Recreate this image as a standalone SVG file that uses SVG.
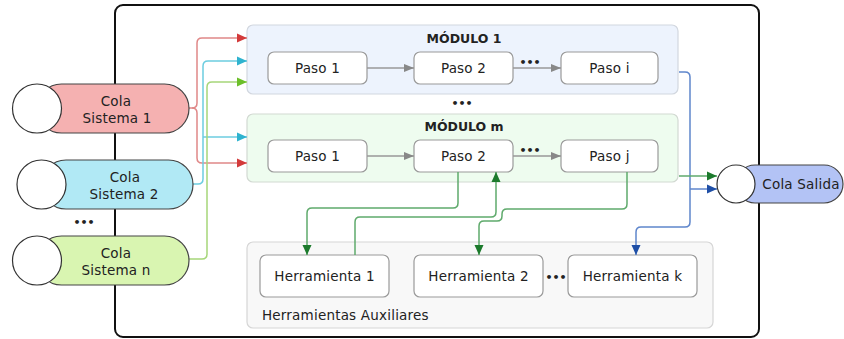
<svg xmlns="http://www.w3.org/2000/svg" width="844" height="339" viewBox="0 0 844 339">
<style>
text{font-family:"DejaVu Sans","Noto Sans",sans-serif;fill:#222;}
.lbl{font-size:13.5px;letter-spacing:0.2px;text-anchor:middle;}
.ttl{font-size:12.5px;font-weight:bold;text-anchor:middle;}
.dots{font-size:11px;font-weight:bold;text-anchor:middle;}
.paso{fill:#fff;stroke:#9a9a9a;stroke-width:1.2;}
.circ{fill:#fff;stroke:#333;stroke-width:1.2;}
.pill{stroke:#444;stroke-width:1.2;}
.c{fill:none;stroke-width:1.5;}
.red{stroke:#e08888;}
.cyan{stroke:#6ccde0;}
.lg{stroke:#a6d67a;}
.dg{stroke:#5faa6c;}
.bl{stroke:#5f86cc;}
.gr{stroke:#999;}
</style>
<defs>
<marker id="aRed" markerWidth="10" markerHeight="10" refX="10" refY="5" orient="auto" markerUnits="userSpaceOnUse"><path d="M0,0.5 L10,5 L0,9.5 Z" fill="#d33a3a"/></marker>
<marker id="aCyan" markerWidth="10" markerHeight="10" refX="10" refY="5" orient="auto" markerUnits="userSpaceOnUse"><path d="M0,0.5 L10,5 L0,9.5 Z" fill="#2fb3cf"/></marker>
<marker id="aLg" markerWidth="10" markerHeight="10" refX="10" refY="5" orient="auto" markerUnits="userSpaceOnUse"><path d="M0,0.5 L10,5 L0,9.5 Z" fill="#6cbf2a"/></marker>
<marker id="aDg" markerWidth="10" markerHeight="10" refX="10" refY="5" orient="auto" markerUnits="userSpaceOnUse"><path d="M0,0.5 L10,5 L0,9.5 Z" fill="#1c7a2c"/></marker>
<marker id="aBl" markerWidth="10" markerHeight="10" refX="10" refY="5" orient="auto" markerUnits="userSpaceOnUse"><path d="M0,0.5 L10,5 L0,9.5 Z" fill="#1f4fa6"/></marker>
<marker id="aGr" markerWidth="10" markerHeight="10" refX="10" refY="5" orient="auto" markerUnits="userSpaceOnUse"><path d="M0,1 L10,5 L0,9 Z" fill="#888"/></marker>
</defs>

<rect id="system" x="115" y="5" width="644" height="332" rx="8" fill="none" stroke="#111" stroke-width="2"/>

<g id="modulo1">
<rect x="247" y="25" width="431" height="69" rx="6" fill="#edf3fd" stroke="#d2d7df" stroke-width="1.2"/>
<text class="ttl" x="464" y="43">MÓDULO 1</text>
</g>
<g id="m1-paso1"><rect class="paso" x="268" y="52" width="99" height="32" rx="6"/><text class="lbl" x="317.5" y="73">Paso 1</text></g>
<g id="m1-paso2"><rect class="paso" x="414" y="52" width="99" height="32" rx="6"/><text class="lbl" x="463.5" y="73">Paso 2</text></g>
<g id="m1-pasoi"><rect class="paso" x="561" y="52" width="97" height="32" rx="6"/><text class="lbl" x="609.5" y="73">Paso i</text></g>
<text class="dots" x="530" y="66">•••</text>

<text class="dots" x="462" y="107">•••</text>

<g id="modulom">
<rect x="247" y="114" width="431" height="68" rx="6" fill="#eefcef" stroke="#d2d9d2" stroke-width="1.2"/>
<text class="ttl" x="464" y="131">MÓDULO m</text>
</g>
<g id="mm-paso1"><rect class="paso" x="268" y="140" width="99" height="32" rx="6"/><text class="lbl" x="317.5" y="161">Paso 1</text></g>
<g id="mm-paso2"><rect class="paso" x="414" y="140" width="99" height="32" rx="6"/><text class="lbl" x="463.5" y="161">Paso 2</text></g>
<g id="mm-pasoj"><rect class="paso" x="561" y="140" width="97" height="32" rx="6"/><text class="lbl" x="609.5" y="161">Paso j</text></g>
<text class="dots" x="530" y="154">•••</text>

<g id="herramientas">
<rect x="247" y="242" width="466" height="86" rx="6" fill="#f8f8f8" stroke="#d6d6d6" stroke-width="1.2"/>
<text x="262" y="320" style="font-size:13.5px;letter-spacing:0.2px">Herramientas Auxiliares</text>
</g>
<g id="herr1"><rect class="paso" x="260" y="255" width="129" height="42" rx="6"/><text class="lbl" x="324.5" y="281">Herramienta 1</text></g>
<g id="herr2"><rect class="paso" x="414" y="255" width="129" height="42" rx="6"/><text class="lbl" x="478.5" y="281">Herramienta 2</text></g>
<text class="dots" x="556" y="281">•••</text>
<g id="herrk"><rect class="paso" x="568" y="255" width="129" height="42" rx="6"/><text class="lbl" x="632.5" y="281">Herramienta k</text></g>

<g id="connectors">
<path class="c red" d="M189,108 H192 Q197,108 197,103 V43 Q197,38 202,38 H247" marker-end="url(#aRed)"/>
<path class="c red" d="M192,108 Q197,108 197,113 V158 Q197,163 202,163 H247" marker-end="url(#aRed)"/>
<path class="c cyan" d="M193,184 H198 Q203,184 203,179 V66 Q203,61 208,61 H247" marker-end="url(#aCyan)"/>
<path class="c cyan" d="M203,137 H247" marker-end="url(#aCyan)"/>
<path class="c lg" d="M189,259 H202 Q207,259 207,254 V87 Q207,82 212,82 H247" marker-end="url(#aLg)"/>

<path class="c gr" d="M367,68 H414" marker-end="url(#aGr)"/>
<path class="c gr" d="M513,68 H561" marker-end="url(#aGr)"/>
<path class="c gr" d="M367,156 H414" marker-end="url(#aGr)"/>
<path class="c gr" d="M513,156 H561" marker-end="url(#aGr)"/>

<path class="c dg" d="M458,172 V203 Q458,208 453,208 H312 Q307,208 307,213 V255" marker-end="url(#aDg)"/>
<path class="c dg" d="M355,255 V222 Q355,217 360,217 H491 Q496,217 496,212 V172" marker-end="url(#aDg)"/>
<path class="c dg" d="M627,172 V204 Q627,209 622,209 H507 Q502,209 502,214 V216 Q502,221 497,221 H484 Q479,221 479,226 V255" marker-end="url(#aDg)"/>

<path class="c bl" d="M679,72 H685 Q690,72 690,77 V222 Q690,227 685,227 H641 Q636,227 636,232 V255" marker-end="url(#aBl)"/>
<path class="c bl" d="M690,189 H717" marker-end="url(#aBl)"/>
<path class="c dg" d="M679,176 H717" marker-end="url(#aDg)"/>
</g>

<g id="cola1">
<rect class="pill" x="37" y="84" width="152" height="49" rx="24.5" fill="#f5b1b1"/>
<circle class="circ" cx="37" cy="108.5" r="24.5"/>
<text class="lbl" x="116" y="106">Cola</text>
<text class="lbl" x="117" y="123">Sistema 1</text>
</g>
<g id="cola2">
<rect class="pill" x="41.5" y="160" width="151.5" height="49" rx="24.5" fill="#b1e9f5"/>
<circle class="circ" cx="41.5" cy="184.5" r="24.5"/>
<text class="lbl" x="125" y="182">Cola</text>
<text class="lbl" x="124" y="199">Sistema 2</text>
</g>
<text class="dots" x="84" y="226">•••</text>
<g id="colan">
<rect class="pill" x="37" y="236" width="152" height="49" rx="24.5" fill="#d9f5b1"/>
<circle class="circ" cx="37" cy="260.5" r="24.5"/>
<text class="lbl" x="116" y="258">Cola</text>
<text class="lbl" x="116" y="275">Sistema n</text>
</g>
<g id="colasalida">
<rect class="pill" x="736" y="165" width="107" height="38" rx="19" fill="#b3c3f5"/>
<circle class="circ" cx="736" cy="184" r="19"/>
<text class="lbl" x="801" y="188.5">Cola Salida</text>
</g>
</svg>
